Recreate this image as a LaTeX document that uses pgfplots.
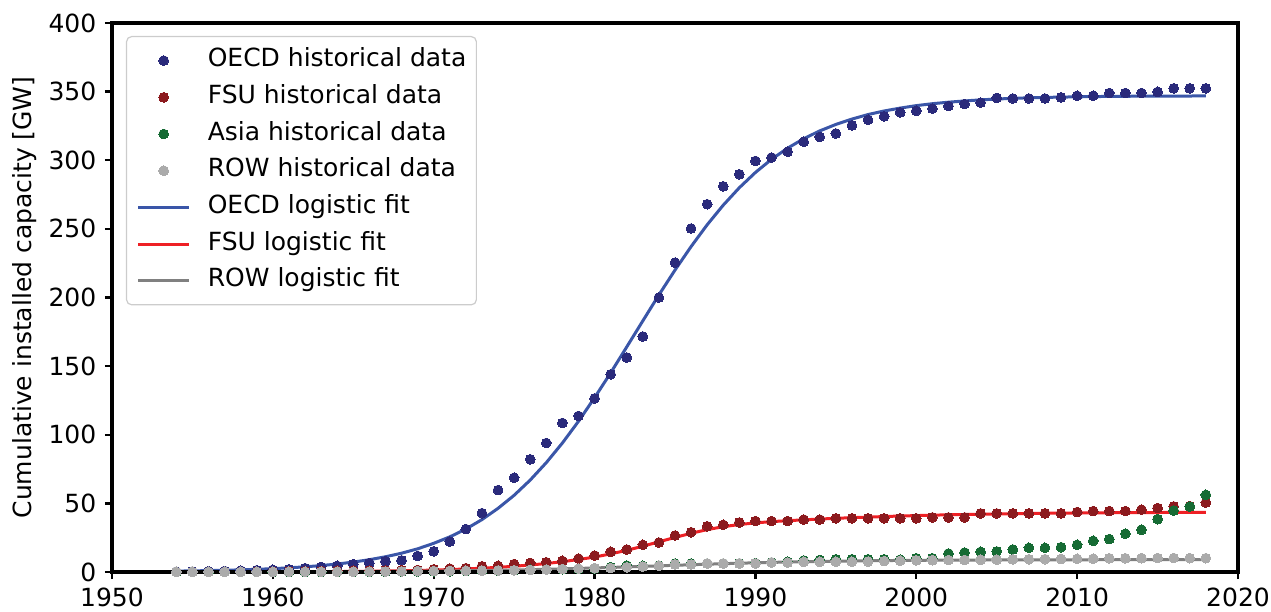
\documentclass[border=0pt]{standalone}
\usepackage{fontspec}
\setmainfont{DejaVu Sans}
\usepackage{pgfplots}
\usepackage{pgfplotstable}
\pgfplotsset{compat=1.18}

\definecolor{oecddot}{HTML}{2A2A7B}
\definecolor{fsudot}{HTML}{8C1A1E}
\definecolor{asiadot}{HTML}{166B34}
\definecolor{rowdot}{HTML}{ABABAB}
\definecolor{oecdline}{HTML}{3A56A8}
\definecolor{fsuline}{HTML}{EE2025}
\definecolor{rowline}{HTML}{808080}

\pgfplotstableread{
year oecd fsu asia row
1954 0.3 0.0 0.0 0.1
1955 0.4 0.0 0.0 0.1
1956 0.6 0.0 0.0 0.1
1957 0.8 0.05 0.0 0.1
1958 1.0 0.1 0.0 0.1
1959 1.3 0.2 0.0 0.1
1960 1.6 0.3 0.0 0.1
1961 2.0 0.4 0.0 0.2
1962 2.8 0.5 0.0 0.2
1963 3.7 0.7 0.0 0.2
1964 4.5 0.9 0.0 0.2
1965 5.7 1.0 0.0 0.2
1966 6.5 1.1 0.1 0.3
1967 7.9 1.2 0.2 0.4
1968 8.5 1.3 0.3 0.5
1969 11.7 1.5 0.4 0.6
1970 15.1 2.0 0.5 0.7
1971 22.2 2.5 0.6 0.8
1972 31.3 2.8 0.7 0.9
1973 42.9 4.2 0.8 1.0
1974 59.7 4.5 1.0 1.1
1975 68.7 5.8 1.2 1.3
1976 82.1 6.6 1.6 1.5
1977 94.0 7.1 1.8 1.8
1978 108.6 8.1 2.0 2.2
1979 113.7 9.8 2.2 2.5
1980 126.5 12.0 2.5 2.8
1981 144.0 14.7 3.5 2.9
1982 156.3 16.4 4.7 3.5
1983 171.6 19.8 4.5 4.0
1984 200.0 21.5 4.7 4.5
1985 225.4 26.6 6.2 5.5
1986 250.3 29.0 6.2 5.5
1987 268.0 33.3 6.2 6.2
1988 281.0 34.4 6.2 6.2
1989 289.8 36.1 6.3 6.2
1990 299.5 37.1 6.5 6.3
1991 302.0 37.1 7.0 6.9
1992 306.2 37.1 7.5 6.9
1993 313.5 38.2 8.4 7.4
1994 317.0 38.2 8.8 7.4
1995 319.5 39.1 9.3 7.5
1996 325.4 39.1 9.3 7.5
1997 329.4 39.1 9.3 7.6
1998 332.0 39.1 9.3 8.0
1999 334.9 39.1 9.0 8.2
2000 336.0 39.1 10.0 8.5
2001 337.6 39.8 10.0 8.6
2002 339.5 39.8 13.5 8.7
2003 341.0 39.8 14.2 8.8
2004 342.0 42.7 14.7 8.9
2005 345.4 42.7 15.0 9.0
2006 345.0 42.7 16.4 9.2
2007 345.0 42.7 17.6 9.3
2008 345.0 42.7 17.6 9.4
2009 345.8 42.7 18.1 9.5
2010 347.0 43.7 19.8 9.6
2011 347.0 44.4 22.7 9.7
2012 349.0 44.4 24.0 10.0
2013 349.0 44.4 27.9 10.0
2014 349.0 45.4 30.8 10.1
2015 349.8 46.6 38.5 10.2
2016 352.4 47.8 44.8 10.2
2017 352.4 48.0 47.7 10.1
2018 352.4 50.6 56.2 10.1
}\histdata

\pgfplotstableread{
year oecd fsu row
1954 0.66 0.02 0.04
1955 0.82 0.03 0.05
1956 1.02 0.04 0.06
1957 1.27 0.05 0.07
1958 1.58 0.07 0.08
1959 1.96 0.09 0.10
1960 2.44 0.12 0.12
1961 3.04 0.16 0.14
1962 3.78 0.20 0.17
1963 4.69 0.26 0.20
1964 5.82 0.33 0.24
1965 7.23 0.43 0.29
1966 8.97 0.55 0.34
1967 11.1 0.70 0.41
1968 13.7 0.90 0.48
1969 16.9 1.15 0.57
1970 20.9 1.40 0.67
1971 25.6 1.80 0.79
1972 31.3 2.20 0.93
1973 38.2 2.80 1.10
1974 46.4 3.40 1.28
1975 55.9 4.20 1.49
1976 67.0 5.10 1.72
1977 79.7 6.20 1.99
1978 94.0 7.50 2.28
1979 109.8 9.10 2.60
1980 127.0 10.9 2.95
1981 145.1 13.2 3.32
1982 164.0 15.8 3.70
1983 183.0 18.8 4.10
1984 201.9 22.0 4.50
1985 220.0 25.2 4.90
1986 237.1 28.2 5.30
1987 253.0 30.9 5.68
1988 267.3 33.0 6.05
1989 280.0 34.6 6.40
1990 291.1 35.8 6.72
1991 300.7 36.7 7.00
1992 308.8 37.4 7.28
1993 315.7 38.0 7.51
1994 321.4 38.6 7.72
1995 326.1 39.1 7.90
1996 330.0 39.6 8.07
1997 333.3 40.0 8.20
1998 335.9 40.4 8.33
1999 338.0 40.8 8.43
2000 339.8 41.1 8.52
2001 341.2 41.4 8.60
2002 342.3 41.7 8.66
2003 343.2 41.9 8.71
2004 344.0 42.1 8.76
2005 344.6 42.3 8.80
2006 345.1 42.5 8.83
2007 345.5 42.6 8.86
2008 345.8 42.8 8.88
2009 346.0 42.9 8.90
2010 346.2 43.0 8.92
2011 346.4 43.1 8.93
2012 346.5 43.2 8.94
2013 346.6 43.25 8.95
2014 346.7 43.3 8.96
2015 346.7 43.35 8.96
2016 346.8 43.4 8.97
2017 346.8 43.45 8.97
2018 346.9 43.5 8.98
}\fitdata

\begin{document}
\fontsize{12.5}{15}\selectfont
\begin{tikzpicture}
\begin{axis}[
  scale only axis,
  width=563pt, height=274.5pt,
  xmin=1950, xmax=2020, ymin=0, ymax=400,
  xtick={1950,1960,...,2020},
  ytick={0,50,...,400},
  xtick pos=bottom, ytick pos=left,
  tick align=outside,
  major tick length=3.5pt,
  every tick/.style={black, line width=1.2pt},
  axis line style={black, line width=1.6pt},
  axis on top,
  /pgf/number format/assume math mode=true,
  x tick label style={/pgf/number format/1000 sep={}},
  ylabel={Cumulative installed capacity [GW]},
  every axis y label/.style={at={(axis description cs:0,0.5)}, xshift=-43.5pt, rotate=90, anchor=center},
  legend cell align=left,
  legend style={at={(0,1)}, anchor=north west, xshift=7pt, yshift=-6.5pt,
    draw=black!20, line width=0.6pt, rounded corners=2.5pt,
    fill=white,
    inner xsep=5pt, inner ysep=4.5pt, row sep=3.35pt,
    nodes={inner xsep=0pt, inner ysep=1.5pt, text height=9pt, text depth=3pt},
    /tikz/every odd column/.append style={column sep=8.5pt}},
  legend image code/.code={\draw[mark repeat=2,mark phase=2] plot coordinates {(0cm,0cm) (0.45cm,0cm) (0.9cm,0cm)};},
]
\addplot[forget plot, oecdline, line width=1.5pt, no marks] table[x=year, y=oecd] {\fitdata};
\addplot[forget plot, fsuline, line width=1.5pt, no marks] table[x=year, y=fsu] {\fitdata};
\addplot[forget plot, rowline, line width=1.5pt, no marks] table[x=year, y=row] {\fitdata};

\addplot[only marks, mark=*, mark size=2.45pt, mark options={fill=oecddot, draw=oecddot, line width=0pt}] table[x=year, y=oecd] {\histdata};
\addlegendentry{OECD historical data}
\addplot[only marks, mark=*, mark size=2.45pt, mark options={fill=fsudot, draw=fsudot, line width=0pt}] table[x=year, y=fsu] {\histdata};
\addlegendentry{FSU historical data}
\addplot[only marks, mark=*, mark size=2.45pt, mark options={fill=asiadot, draw=asiadot, line width=0pt}] table[x=year, y=asia] {\histdata};
\addlegendentry{Asia historical data}
\addplot[only marks, mark=*, mark size=2.45pt, mark options={fill=rowdot, draw=rowdot, line width=0pt}] table[x=year, y=row] {\histdata};
\addlegendentry{ROW historical data}

\addlegendimage{oecdline, line width=1.5pt, no marks}
\addlegendentry{OECD logistic fit}
\addlegendimage{fsuline, line width=1.5pt, no marks}
\addlegendentry{FSU logistic fit}
\addlegendimage{rowline, line width=1.5pt, no marks}
\addlegendentry{ROW logistic fit}
\end{axis}
\pgfresetboundingbox
\path ([shift={(-56pt,-19.5pt)}]current axis.south west) rectangle ([shift={(16.5pt,11.5pt)}]current axis.north east);
\end{tikzpicture}
\end{document}
